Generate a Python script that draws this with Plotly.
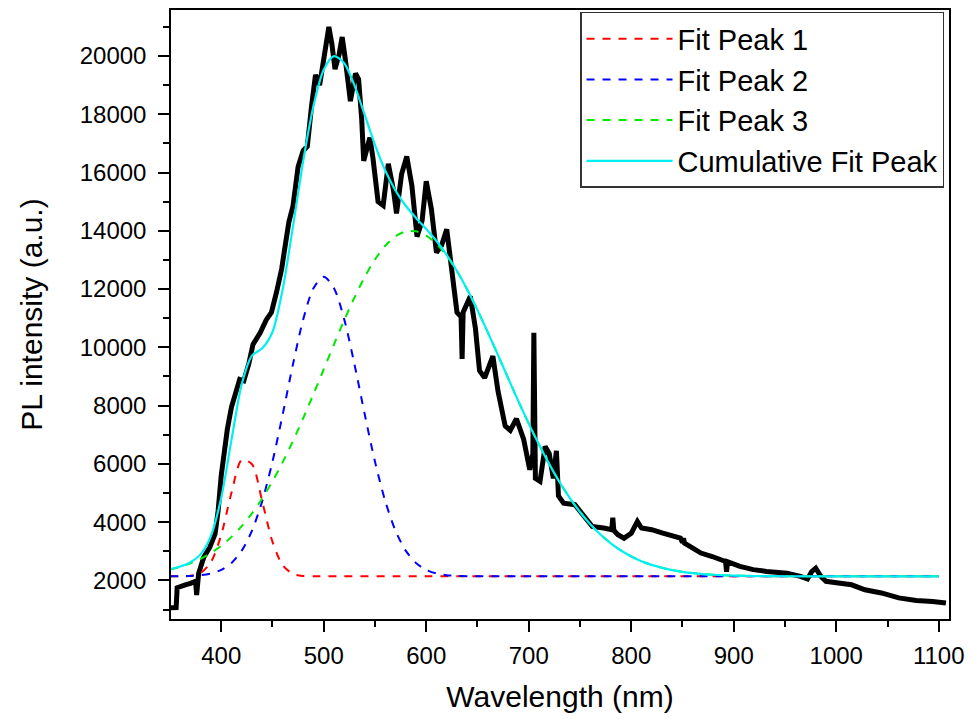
import plotly.graph_objects as go

# ---------------- measured PL spectrum (black) ----------------
spec_wl = [350, 356, 357, 360, 365, 370, 375, 376, 378, 383, 389, 394, 397, 400, 403, 406,
           410, 414, 418, 422, 427, 431, 438, 444, 449, 454, 459, 462, 466, 470, 475, 480,
           484, 488, 492, 496, 500, 505, 508, 511, 515, 518, 521, 526, 531, 534, 537, 539,
           545, 548, 553, 558, 563, 568, 571, 576, 581, 586, 591, 596, 600, 605, 610, 615,
           620, 625, 630, 634, 635, 636, 643, 648, 652, 657, 662, 665, 670, 677, 682, 688,
           695, 701, 704, 705, 706.5, 711, 716, 720, 724, 727, 729, 734, 745, 752, 757, 762,
           773, 781, 782, 783, 787, 793, 800, 806, 810, 820, 830, 840, 848, 850, 851, 852,
           859, 868, 879, 892, 893, 894, 906, 919, 932, 952, 965, 972, 976, 980, 985, 990,
           1002, 1015, 1028, 1044, 1061, 1078, 1094, 1107]
spec_pl = [1060, 1070, 1750, 1800, 1850, 1900, 1970, 1500, 2250, 2800, 3150, 3600, 4400, 5600, 6600, 7200,
           7950, 8500, 8900, 8850, 9450, 10100, 10500, 10950, 11200, 11900, 12700, 13400, 14300, 14850, 16200, 16750,
           16900, 18250, 19350, 19000, 19900, 21000, 20400, 19550, 20050, 20650, 19900, 18450, 19400, 19200, 17850, 16400,
           17200, 16500, 15000, 14870, 16300, 15400, 14600, 15950, 16550, 15550, 13800, 14350, 15700, 14750, 13250, 13500,
           14050, 12700, 11200, 11050, 9600, 11200, 11750, 10650, 9200, 8950, 9450, 9700, 8500, 7300, 7150, 7550,
           6850, 5800, 6350, 10500, 5500, 5400, 6600, 6350, 5500, 6450, 4900, 4650, 4600, 4300, 4030, 3850,
           3800, 3740, 4150, 3720, 3570, 3450, 3620, 4020, 3800, 3740, 3630, 3510, 3450, 3300, 3450, 3280,
           3110, 2940, 2820, 2650, 2300, 2640, 2480, 2370, 2310, 2250, 2140, 2050, 2300, 2420, 2140, 1970,
           1910, 1850, 1680, 1570, 1400, 1310, 1280, 1225]

# ---------------- fit peak 1 (red) ----------------
p1_wl = [350, 360, 370, 380, 390, 400, 410, 420, 430, 440, 450, 460, 470, 480, 490, 500,
         600, 700, 800, 900, 1000, 1100]
p1_pl = [2140, 2142, 2159, 2258, 2632, 3566, 5009, 6131, 5987, 4709, 3328, 2521, 2224, 2153, 2141, 2140,
         2140, 2140, 2140, 2140, 2140, 2140]

# ---------------- fit peak 2 (blue) ----------------
p2_wl = [350, 360, 370, 380, 390, 400, 410, 420, 430, 440, 450, 460, 470, 480, 490, 500,
         510, 520, 530, 540, 550, 560, 570, 580, 590, 600, 610, 620, 630, 640, 650, 700,
         800, 900, 1000, 1100]
p2_pl = [2142, 2146, 2156, 2181, 2239, 2362, 2600, 3022, 3709, 4723, 6077, 7702, 9418, 10960, 12030, 12420,
         12030, 10960, 9418, 7702, 6077, 4723, 3709, 3022, 2600, 2362, 2239, 2181, 2156, 2146, 2142, 2140,
         2140, 2140, 2140, 2140]

# ---------------- fit peak 3 (green) ----------------
p3_wl = [350, 360, 370, 380, 390, 400, 410, 420, 430, 440, 450, 460, 470, 480, 490, 500,
         510, 520, 530, 540, 550, 560, 570, 580, 590, 600, 610, 620, 630, 640, 650, 660,
         670, 680, 690, 700, 710, 720, 730, 740, 750, 760, 770, 780, 790, 800, 810, 820,
         830, 840, 850, 860, 870, 880, 890, 900, 910, 920, 930, 940, 950, 1000, 1100]
p3_pl = [2377, 2468, 2588, 2744, 2941, 3190, 3494, 3863, 4302, 4813, 5402, 6060, 6787, 7572, 8397, 9248,
         10102, 10932, 11711, 12414, 13015, 13486, 13813, 13977, 13982, 13836, 13550, 13136, 12606, 11980, 11277, 10521,
         9733, 8935, 8145, 7382, 6661, 5991, 5379, 4831, 4348, 3931, 3574, 3274, 3026, 2824, 2661, 2533,
         2432, 2355, 2295, 2251, 2218, 2195, 2178, 2166, 2158, 2152, 2148, 2146, 2143, 2140, 2140]

# ---------------- cumulative fit (cyan) ----------------
cum_wl = [350, 360, 370, 380, 390, 400, 410, 420, 430, 440, 450, 460, 470, 480, 490, 500,
          510, 520, 530, 540, 550, 560, 570, 580, 590, 600, 610, 620, 630, 640, 650, 660,
          670, 680, 690, 700, 710, 720, 730, 740, 750, 760, 770, 780, 790, 800, 810, 820,
          830, 840, 850, 860, 870, 880, 890, 900, 910, 920, 930, 940, 950, 1000, 1100]
cum_pl = [2379, 2476, 2623, 2903, 3532, 4838, 6823, 8736, 9718, 9965, 10527, 12003, 14149, 16405, 18287, 19528,
          19992, 19752, 18989, 17976, 16952, 16069, 15382, 14859, 14442, 14058, 13649, 13177, 12622, 11986, 11277, 10521,
          9733, 8935, 8145, 7382, 6661, 5991, 5379, 4831, 4348, 3931, 3574, 3274, 3026, 2824, 2661, 2533,
          2432, 2355, 2295, 2251, 2218, 2195, 2178, 2166, 2158, 2152, 2148, 2146, 2143, 2140, 2140]

FONT = "Arial, Liberation Sans, sans-serif"

fig = go.Figure()
fig.add_trace(go.Scatter(x=spec_wl, y=spec_pl, mode="lines", showlegend=False,
                         line=dict(color="black", width=5)))
fig.add_trace(go.Scatter(x=p1_wl, y=p1_pl, mode="lines", name="Fit Peak 1",
                         line=dict(color="#ff0000", width=2, dash="8px,8px", shape="spline", smoothing=0.8)))
fig.add_trace(go.Scatter(x=p2_wl, y=p2_pl, mode="lines", name="Fit Peak 2",
                         line=dict(color="#0000ff", width=2, dash="8px,8px", shape="spline", smoothing=0.8)))
fig.add_trace(go.Scatter(x=p3_wl, y=p3_pl, mode="lines", name="Fit Peak 3",
                         line=dict(color="#00e800", width=2, dash="8px,8px", shape="spline", smoothing=0.8)))
fig.add_trace(go.Scatter(x=cum_wl, y=cum_pl, mode="lines", name="Cumulative Fit Peak",
                         line=dict(color="#00f0f0", width=2.2, shape="spline", smoothing=0.8)))

axis_common = dict(showline=True, linecolor="black", linewidth=1.5, mirror=True,
                   ticks="outside", ticklen=11, tickwidth=1.5, tickcolor="black",
                   showgrid=False, zeroline=False, tickformat="d",
                   tickfont=dict(family=FONT, size=24, color="black"))

fig.update_xaxes(range=[351, 1110], dtick=100, tick0=0, ticklabelstandoff=3,
                 minor=dict(dtick=50, tick0=0, ticks="outside", ticklen=6, tickwidth=1.5, tickcolor="black"),
                 title=dict(text="Wavelength (nm)", font=dict(family=FONT, size=30, color="black"), standoff=18),
                 **axis_common)
fig.update_yaxes(range=[676, 21578], dtick=2000, tick0=0, ticklabelstandoff=7,
                 minor=dict(dtick=1000, tick0=0, ticks="outside", ticklen=6, tickwidth=1.5, tickcolor="black"),
                 title=dict(text="PL intensity (a.u.)", font=dict(family=FONT, size=30, color="black"), standoff=28),
                 **axis_common)

fig.update_layout(
    width=970, height=719,
    margin=dict(l=171, r=21, t=10, b=100, autoexpand=False),
    paper_bgcolor="white", plot_bgcolor="white",
    font=dict(family=FONT, color="black"),
    legend=dict(x=0.9936, y=0.997, xanchor="right", yanchor="top",
                bgcolor="white", bordercolor="#333333", borderwidth=1.5,
                font=dict(family=FONT, size=29, color="black"),
                itemwidth=86, tracegroupgap=0),
)

fig.write_html("out.html", config={"displayModeBar": False},
               post_script="document.body.style.margin='0px';document.body.style.overflow='hidden';")
